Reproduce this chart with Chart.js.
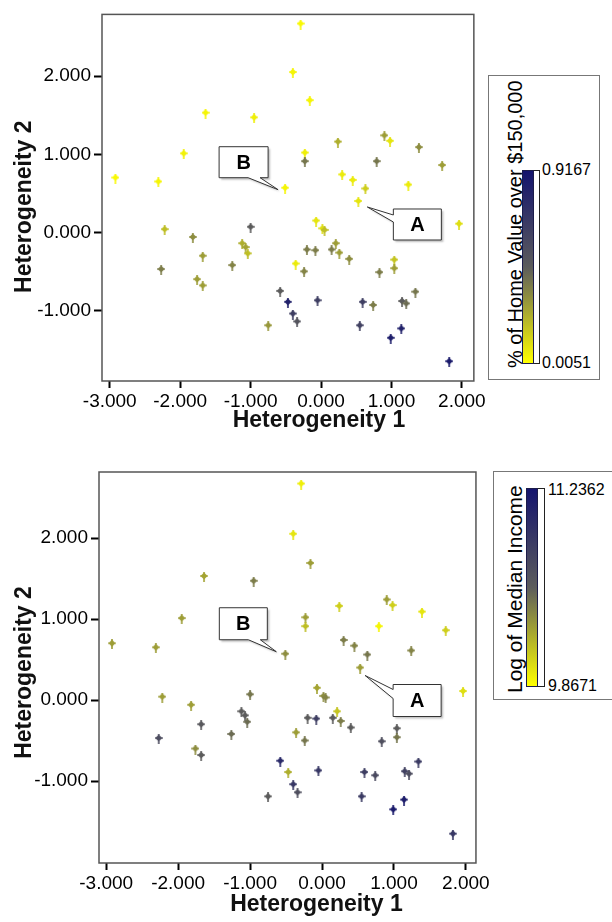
<!DOCTYPE html>
<html lang="en">
<head>
<meta charset="UTF-8">
<script src="https://cdn.jsdelivr.net/npm/chart.js"></script>
<title>Heterogeneity scatter</title>
<style>
  body { margin: 0; width: 612px; height: 922px; position: relative; background: #fff; overflow: hidden;
         font-family: "Liberation Sans", Arial, sans-serif; color: #000; }
  canvas { position: absolute; left: 0; }
  .legend { position: absolute; border: 1px solid #777; background: #fff; }
  .bar { position: absolute; border: 1px solid #1c1c4a; box-sizing: border-box;
         background: linear-gradient(to bottom, #14146e 0%, #5c5c5c 50%, #ffff00 100%); }
  .bracket { position: absolute; border: 1px solid #222; border-left: none; box-sizing: border-box; }
  .val { position: absolute; font-size: 16px; line-height: 16px; white-space: nowrap; }
  .vlabel { position: absolute; white-space: nowrap; transform-origin: left top; transform: rotate(-90deg); }
</style>
</head>
<body>
<canvas id="top" width="488" height="440" style="top:0"></canvas>
<canvas id="bottom" width="492" height="482" style="top:440px"></canvas>

<div class="legend" style="left:488px; top:75px; width:110px; height:303px"></div>
<div class="vlabel" style="left:505px; top:368px; font-size:20px; line-height:20px">% of Home Value over $150,000</div>
<div class="bar" style="left:522px; top:170px; width:12px; height:194px"></div>
<div class="bracket" style="left:534px; top:170px; width:6px; height:194px"></div>
<div class="val" style="left:542px; top:162px" id="homeMax"></div>
<div class="val" style="left:542px; top:355px" id="homeMin"></div>

<div class="legend" style="left:493px; top:471px; width:130px; height:227px"></div>
<div class="vlabel" style="left:504px; top:693px; font-size:21px; line-height:21px">Log of Median Income</div>
<div class="bar" style="left:526px; top:488px; width:12px; height:199px"></div>
<div class="bracket" style="left:538px; top:488px; width:7px; height:199px"></div>
<div class="val" style="left:548px; top:482px" id="incMax"></div>
<div class="val" style="left:548px; top:678px" id="incMin"></div>

<script>
  // point positions (shared by both panels)
  const heteroX = [-2.92, -2.31, -1.95, -1.64, -0.95, -0.51, -0.29, -0.40, -0.16, 0.24,
    0.90, 0.98, 1.39, -0.23, -0.23, 0.79, 1.72, 0.30, 0.45, 0.63,
    1.24, 0.53, 1.96, -0.07, 0.02, 0.05, 0.21, -0.20, -0.08, 0.15,
    0.26, 0.40, -0.36, -0.24, 1.04, 1.04, 0.83, 1.34, -0.58, -0.47,
    -0.05, 0.59, 0.74, 1.15, 1.21, -0.40, -0.34, 0.55, 1.14, 0.99,
    1.82, -2.22, -1.00, -1.82, -1.12, -1.07, -1.04, -1.68, -1.26, -2.27,
    -1.76, -1.68, -0.75]
  const heteroY = [0.69, 0.64, 1.00, 1.52, 1.46, 0.56, 2.66, 2.04, 1.68, 1.15,
    1.23, 1.16, 1.08, 1.01, 0.90, 0.90, 0.85, 0.73, 0.66, 0.55,
    0.60, 0.39, 0.10, 0.14, 0.04, 0.02, -0.15, -0.23, -0.24, -0.23,
    -0.27, -0.35, -0.41, -0.51, -0.36, -0.47, -0.52, -0.77, -0.76, -0.90,
    -0.88, -0.90, -0.94, -0.89, -0.92, -1.05, -1.15, -1.20, -1.24, -1.36,
    -1.66, 0.03, 0.06, -0.07, -0.15, -0.20, -0.28, -0.31, -0.43, -0.48,
    -0.61, -0.69, -1.20]

  // colour variables
  const homeValue = [0.023, 0.032, 0.042, 0.032, 0.051, 0.032, 0.023, 0.032, 0.032, 0.233,
    0.279, 0.078, 0.324, 0.051, 0.388, 0.388, 0.279, 0.060, 0.060, 0.142,
    0.060, 0.078, 0.096, 0.078, 0.096, 0.187, 0.279, 0.370, 0.370, 0.370,
    0.279, 0.324, 0.060, 0.352, 0.169, 0.279, 0.370, 0.388, 0.461, 0.826,
    0.643, 0.643, 0.370, 0.461, 0.415, 0.643, 0.506, 0.625, 0.826, 0.844,
    0.871, 0.187, 0.461, 0.324, 0.233, 0.260, 0.187, 0.279, 0.352, 0.370,
    0.279, 0.279, 0.297]
  const logIncome = [10.278, 10.278, 10.278, 10.250, 10.415, 10.346, 9.936, 9.977, 10.278, 10.073,
    10.278, 10.073, 9.977, 10.278, 10.141, 9.908, 10.073, 10.415, 10.387, 10.442,
    10.387, 10.278, 10.004, 10.250, 10.346, 10.387, 10.114, 10.552, 10.826, 10.552,
    10.415, 10.552, 10.278, 10.442, 10.552, 10.442, 10.661, 10.853, 11.031, 10.209,
    10.894, 10.826, 10.716, 10.798, 10.689, 10.894, 10.661, 10.853, 11.127, 11.168,
    10.894, 10.278, 10.442, 10.278, 10.552, 10.552, 10.483, 10.579, 10.483, 10.689,
    10.346, 10.552, 10.552]

  const homeRange = [0.0051, 0.9167]
  const incomeRange = [9.8671, 11.2362]
  const xTicks = [-3, -2, -1, 0, 1, 2]
  const yTicks = [-1, 0, 1, 2]
  const xTitle = 'Heterogeneity 1'
  const yTitle = 'Heterogeneity 2'
  const pointB = 5
  const pointA = 21

  document.getElementById('homeMax').textContent = homeRange[1].toFixed(4)
  document.getElementById('homeMin').textContent = homeRange[0].toFixed(4)
  document.getElementById('incMax').textContent = incomeRange[1].toFixed(4)
  document.getElementById('incMin').textContent = incomeRange[0].toFixed(4)

  // yellow -> gray -> navy, same as the colour bars
  function rampColor(v, range) {
    const t = Math.min(1, Math.max(0, (v - range[0]) / (range[1] - range[0])))
    const yel = [255, 255, 0], gray = [92, 92, 92], navy = [20, 20, 110]
    let a, b, u
    if (t < 0.5) { a = yel; b = gray; u = t / 0.5 } else { a = gray; b = navy; u = (t - 0.5) / 0.5 }
    return 'rgb(' + a.map((c, i) => Math.round(c + (b[i] - c) * u)).join(',') + ')'
  }

  function marker(color) {
    const c = document.createElement('canvas')
    c.width = 8; c.height = 10
    const g = c.getContext('2d')
    g.fillStyle = color
    g.beginPath()
    g.moveTo(4, 0.5); g.lineTo(7.5, 4); g.lineTo(4, 7.5); g.lineTo(0.5, 4)
    g.closePath(); g.fill()
    g.fillRect(3.2, 0, 1.6, 10)
    g.fillRect(0, 3.4, 8, 1.2)
    return c
  }

  const font = '"Liberation Sans", Arial, sans-serif'

  const framePlugin = {
    id: 'frame',
    afterDraw(chart, args, opts) {
      const { ctx, chartArea: a, scales: { x, y } } = chart
      ctx.save()
      ctx.strokeStyle = '#555'
      ctx.lineWidth = 1.5
      ctx.strokeRect(a.left, a.top, a.right - a.left, a.bottom - a.top)

      // axis titles
      ctx.fillStyle = '#111'
      ctx.font = 'bold 23px ' + font
      ctx.textAlign = 'center'
      ctx.textBaseline = 'middle'
      ctx.fillText(xTitle, (a.left + a.right) / 2 + opts.xTitle[0], a.bottom + opts.xTitle[1])
      ctx.save()
      ctx.translate(opts.yTitle[0], (a.top + a.bottom) / 2 + opts.yTitle[1])
      ctx.rotate(-Math.PI / 2)
      ctx.fillText(yTitle, 0, 0)
      ctx.restore()

      opts.callouts.forEach(c => {
        const px = x.getPixelForValue(heteroX[c.index])
        const py = y.getPixelForValue(heteroY[c.index])
        const l = px + c.dx, t = py + c.dy, r = l + c.w, b = t + c.h
        const tx = px + c.tip[0], ty = py + c.tip[1]
        ctx.beginPath()
        ctx.moveTo(l, t); ctx.lineTo(r, t); ctx.lineTo(r, b)
        if (c.edge === 'bottom') {
          ctx.lineTo(l + c.base[1], b); ctx.lineTo(tx, ty); ctx.lineTo(l + c.base[0], b); ctx.lineTo(l, b)
        } else {
          ctx.lineTo(l, b); ctx.lineTo(l, t + c.base[1]); ctx.lineTo(tx, ty); ctx.lineTo(l, t + c.base[0])
        }
        ctx.closePath()
        ctx.shadowColor = 'rgba(0,0,0,0.25)'
        ctx.shadowOffsetX = 2; ctx.shadowOffsetY = 2; ctx.shadowBlur = 2
        ctx.fillStyle = '#fff'
        ctx.fill()
        ctx.shadowColor = 'transparent'
        ctx.strokeStyle = '#333'
        ctx.lineWidth = 1
        ctx.stroke()
        ctx.fillStyle = '#000'
        ctx.font = 'bold 20px ' + font
        ctx.fillText(c.label, (l + r) / 2, (t + b) / 2 + 1)
      })
      ctx.restore()
    }
  }

  const tickFont = { family: font, size: 19 }

  function makeChart(id, values, range, cfg) {
    return new Chart(document.getElementById(id), {
      type: 'scatter',
      data: {
        datasets: [{
          data: heteroX.map((v, i) => ({ x: v, y: heteroY[i] })),
          pointStyle: values.map(v => marker(rampColor(v, range))),
          pointRadius: 4,
          pointHoverRadius: 4
        }]
      },
      options: {
        responsive: false,
        animation: false,
        layout: { padding: cfg.padding },
        plugins: {
          legend: { display: false },
          tooltip: { enabled: false },
          frame: { callouts: cfg.callouts, xTitle: cfg.xTitle, yTitle: cfg.yTitle }
        },
        scales: {
          x: {
            type: 'linear',
            min: cfg.x[0], max: cfg.x[1],
            afterBuildTicks: s => { s.ticks = xTicks.map(v => ({ value: v })) },
            afterFit: s => { s.height = cfg.xHeight },
            border: { display: false },
            grid: { drawOnChartArea: false, tickLength: 7, tickWidth: 2, tickColor: '#000' },
            ticks: { font: tickFont, color: '#000', padding: 2, autoSkip: false, maxRotation: 0,
                     callback: v => v.toFixed(3) }
          },
          y: {
            type: 'linear',
            min: cfg.y[0], max: cfg.y[1],
            afterBuildTicks: s => { s.ticks = yTicks.map(v => ({ value: v })) },
            afterFit: s => { s.width = cfg.yWidth },
            border: { display: false },
            grid: { drawOnChartArea: false, tickLength: 8, tickWidth: 2, tickColor: '#000' },
            ticks: { font: tickFont, color: '#000', padding: 3, callback: v => v.toFixed(3) }
          }
        }
      },
      plugins: [framePlugin]
    })
  }

  makeChart('top', homeValue, homeRange, {
    padding: { top: 9, right: 11, left: 0, bottom: 0 },
    x: [-3.11, 2.17], y: [-1.9, 2.79],
    xHeight: 59, yWidth: 102,
    xTitle: [31, 40], yTitle: [25, 9],
    callouts: [
      { index: pointB, label: 'B', edge: 'bottom', dx: -66, dy: -42, w: 49, h: 31, base: [29, 41], tip: [-7, 1] },
      { index: pointA, label: 'A', edge: 'left', dx: 35, dy: 7, w: 48, h: 31, base: [6, 13], tip: [9, 5] }
    ]
  })

  makeChart('bottom', logIncome, incomeRange, {
    padding: { top: 32, right: 13, left: 0, bottom: 0 },
    x: [-3.10, 2.14], y: [-2.01, 2.815],
    xHeight: 59, yWidth: 99,
    xTitle: [29, 42], yTitle: [25, 5],
    callouts: [
      { index: pointB, label: 'B', edge: 'bottom', dx: -66, dy: -47, w: 48, h: 32, base: [29, 41], tip: [-9, -3] },
      { index: pointA, label: 'A', edge: 'left', dx: 33, dy: 16, w: 48, h: 32, base: [5, 14], tip: [5, 7] }
    ]
  })
</script>
</body>
</html>
